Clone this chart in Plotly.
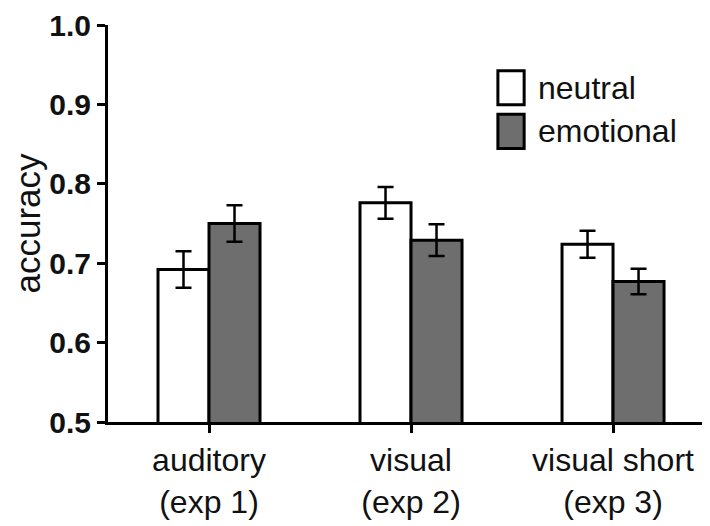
import plotly.graph_objects as go

categories = ["auditory<br>(exp 1)", "visual<br>(exp 2)", "visual short<br>(exp 3)"]
neutral = [0.692, 0.776, 0.724]
neutral_err = [0.023, 0.020, 0.017]
emotional = [0.750, 0.729, 0.677]
emotional_err = [0.023, 0.020, 0.016]
series_names = ["neutral", "emotional"]
y_ticks = [0.5, 0.6, 0.7, 0.8, 0.9, 1.0]

FONT = "Liberation Sans, Arial, sans-serif"
GRAY = "#6e6e6e"
x_idx = list(range(len(categories)))

fig = go.Figure()
for name, vals, errs, fill in [
    (series_names[0], neutral, neutral_err, "white"),
    (series_names[1], emotional, emotional_err, GRAY),
]:
    fig.add_trace(go.Bar(
        x=x_idx, y=vals, name=name,
        marker=dict(color=fill, line=dict(color="black", width=3)),
        error_y=dict(type="data", array=errs, visible=True,
                     color="black", thickness=2.5, width=8),
        showlegend=False,
    ))

# custom legend (large boxes like the reference)
leg_x0, leg_x1 = 1.43, 1.56      # data-x units
leg_items = [(series_names[0], "white", 0.9425, 0.8995), (series_names[1], GRAY, 0.8875, 0.8445)]
for name, fill, ytop, ybot in leg_items:
    fig.add_shape(type="rect", xref="x", yref="y", x0=leg_x0, x1=leg_x1, y0=ybot, y1=ytop,
                  fillcolor=fill, line=dict(color="black", width=3), layer="above")
    fig.add_annotation(xref="x", yref="y", x=1.62, y=(ytop + ybot) / 2, text=name,
                       showarrow=False, xanchor="left", yanchor="middle",
                       font=dict(family=FONT, size=32, color="#111"))

fig.update_layout(
    width=702, height=518,
    barmode="group", bargap=0.495, bargroupgap=0,
    plot_bgcolor="white", paper_bgcolor="white",
    margin=dict(l=100, r=0, t=14, b=104),
    xaxis=dict(
        range=[-0.5, 2.48], tickmode="array", tickvals=x_idx, ticktext=categories,
        showline=True, linecolor="black", linewidth=3,
        ticks="outside", ticklen=8, tickwidth=3, tickcolor="black",
        tickfont=dict(family=FONT, size=32, color="#111"),
        showgrid=False, zeroline=False,
    ),
    yaxis=dict(
        range=[0.5, 1.0], tickmode="array", tickvals=y_ticks,
        ticktext=[f"{v:.1f}" for v in y_ticks],
        ticklabeloverflow="allow",
        showline=True, linecolor="black", linewidth=3,
        ticks="outside", ticklen=8, tickwidth=3, tickcolor="black",
        tickfont=dict(family=FONT, size=30, color="#111", weight="bold"),
        showgrid=False, zeroline=False,
        title=dict(text="accuracy", font=dict(family=FONT, size=35, color="#111"), standoff=0),
    ),
)

fig.write_html("out.html")
